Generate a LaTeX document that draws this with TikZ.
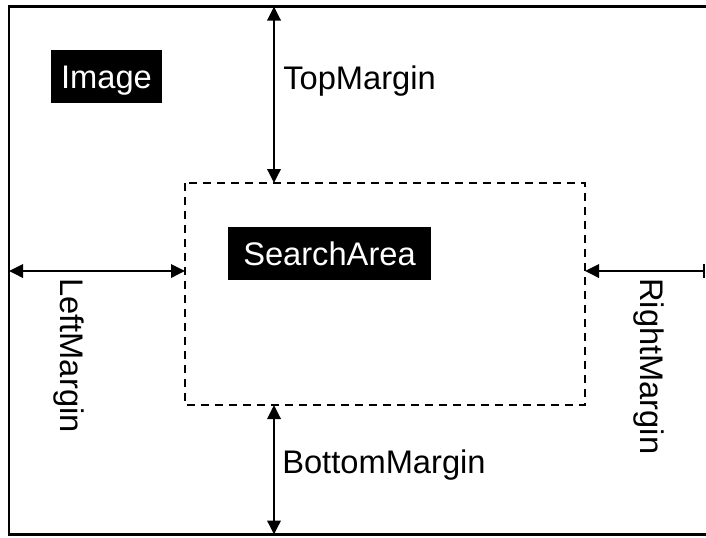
\documentclass[tikz,border=0pt]{standalone}
\usepackage{fontspec}
\setmainfont{Liberation Sans}
\usetikzlibrary{arrows.meta,positioning}

\begin{document}
\begin{tikzpicture}[x=0.75pt,y=-0.75pt,
  lbl/.style={font=\fontsize{24.5}{28}\selectfont, inner sep=0pt},
  tag/.style={lbl, fill=black, text=white, text height=17.5pt, text depth=0pt},
  dim/.style={line width=1.8pt, {Triangle[length=10.5pt,width=10pt]}-{Triangle[length=10.5pt,width=10pt]}}]
  \useasboundingbox (0,0) rectangle (706,537);
  \clip (0,0) rectangle (706,537);
  % image frame and search area
  \coordinate (imgNW) at (9,6.5);
  \coordinate (imgSE) at (720,534.5);
  \coordinate (areaNW) at (185,183);
  \coordinate (areaSE) at (585,405);
  \draw[line width=1.8pt] (imgNW) rectangle (imgSE);
  \draw[line width=1.5pt, dash pattern=on 6pt off 4.5pt] (areaNW) rectangle (areaSE);
  \node[tag, minimum width=83pt, minimum height=40pt] (image) at (106.5,76.5) {Image};
  \node[tag, minimum width=152pt, minimum height=40pt] (area) at (329.5,253.5) {SearchArea};
  % margins
  \coordinate (topA) at (274,6.5);
  \coordinate (topB) at (274,183);
  \coordinate (botA) at (274,405);
  \coordinate (botB) at (274,534.5);
  \coordinate (leftA) at (9,271);
  \coordinate (leftB) at (185,271);
  \coordinate (rightA) at (705,271);
  \coordinate (rightB) at (585,271);
  \draw[dim] (topA) -- (topB);
  \draw[dim] (botA) -- (botB);
  \draw[dim] (leftA) -- (leftB);
  \draw[line width=1.8pt, {Bar[width=10pt]}-{Triangle[length=10.5pt,width=10pt]}] (rightA) -- (rightB);
  \node[lbl, anchor=base west] (top) at (283,89) {TopMargin};
  \node[lbl, anchor=base west] (bottom) at (282,473) {BottomMargin};
  \node[lbl, anchor=base west, rotate=-90] (left) at (60,278) {LeftMargin};
  \node[lbl, anchor=base west, rotate=-90] (right) at (640,278) {RightMargin};
\end{tikzpicture}
\end{document}
